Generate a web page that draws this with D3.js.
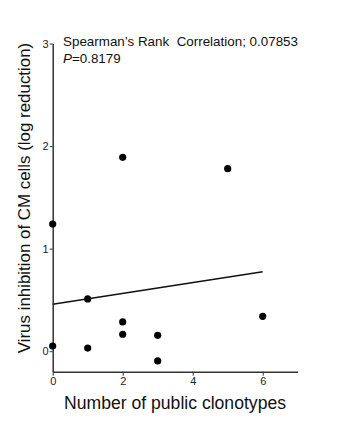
<!DOCTYPE html>
<html>
<head>
<meta charset="utf-8">
<script src="https://cdn.jsdelivr.net/npm/d3@7"></script>
<style>
  body { margin: 0; background: #fff; }
  svg text { font-family: "Liberation Sans", Arial, sans-serif; white-space: pre; }
</style>
</head>
<body>
<svg class="vis" width="347" height="421"></svg>
<script>
// Scatter mit Regressionsgerade

var clonotypes = [0, 0, 1, 1, 2, 2, 2, 3, 3, 5, 6];
var inhibition = [1.24, 0.05, 0.51, 0.03, 0.285, 0.165, 1.89, 0.155, -0.095, 1.78, 0.34];
var xTicks = [0, 2, 4, 6];
var yTicks = [0, 1, 2, 3];
var statLines = ["Spearman\u2019s Rank  Correlation; 0.07853", "=0.8179"];

var svg = d3.select(".vis");

var x = d3.scaleLinear().domain([0, 7]).range([52.7, 297.7]);
var y = d3.scaleLinear().domain([-0.2, 3]).range([371.7, 43.5]);

var points = clonotypes.map(function (d, i) { return { x: d, y: inhibition[i] }; });

// Achsen
var xAxis = svg.append("g")
    .attr("transform", "translate(0," + y(-0.2) + ")")
    .call(d3.axisBottom(x).tickValues(xTicks).tickFormat(d3.format("d"))
        .tickSize(4).tickPadding(2).tickSizeOuter(0));

var yAxis = svg.append("g")
    .attr("transform", "translate(" + x(0) + ",0)")
    .call(d3.axisLeft(y).tickValues(yTicks).tickFormat(d3.format("d"))
        .tickSize(3).tickPadding(1).tickSizeOuter(0));

[xAxis, yAxis].forEach(function (a) {
    a.select(".domain").attr("stroke", "#333").attr("stroke-width", 1.5);
    a.selectAll(".tick line").attr("stroke", "#333").attr("stroke-width", 1);
    a.selectAll(".tick text")
        .attr("font-family", "Liberation Sans, Arial, sans-serif")
        .attr("font-size", "11px")
        .attr("fill", "#222");
});

// Regressionsgerade (kleinste Quadrate)
var mx = d3.mean(clonotypes), my = d3.mean(inhibition);
var sxy = d3.sum(points, function (d) { return (d.x - mx) * (d.y - my); });
var sxx = d3.sum(points, function (d) { return (d.x - mx) * (d.x - mx); });
var slope = sxy / sxx, intercept = my - slope * mx;
var xExtent = d3.extent(clonotypes);

svg.append("path")
    .datum(xExtent.map(function (v) { return { x: v, y: intercept + slope * v }; }))
    .attr("d", d3.line().x(function (d) { return x(d.x); }).y(function (d) { return y(d.y); }))
    .attr("fill", "none")
    .attr("stroke", "#111")
    .attr("stroke-width", 1.5);

svg.selectAll(".dot")
    .data(points).enter()
    .append("circle")
    .attr("class", "dot")
    .attr("cx", function (d) { return x(d.x); })
    .attr("cy", function (d) { return y(d.y); })
    .attr("r", 3.6)
    .attr("fill", "#000");

// Statistik-Text
svg.append("text")
    .attr("x", 63)
    .attr("y", 46)
    .attr("font-size", "13.4px")
    .attr("fill", "#111")
    .text(statLines[0]);

var pText = svg.append("text")
    .attr("x", 63)
    .attr("y", 63)
    .attr("font-size", "13.4px")
    .attr("fill", "#111");
pText.append("tspan").attr("font-style", "italic").text("P");
pText.append("tspan").text(statLines[1]);

// Achsentitel
svg.append("text")
    .attr("x", 175)
    .attr("y", 409)
    .attr("text-anchor", "middle")
    .attr("font-size", "17.6px")
    .attr("fill", "#111")
    .text("Number of public clonotypes");

svg.append("text")
    .attr("transform", "translate(29.5,198) rotate(-90)")
    .attr("text-anchor", "middle")
    .attr("font-size", "16.9px")
    .attr("fill", "#111")
    .text("Virus inhibition of CM cells (log reduction)");
</script>
</body>
</html>
